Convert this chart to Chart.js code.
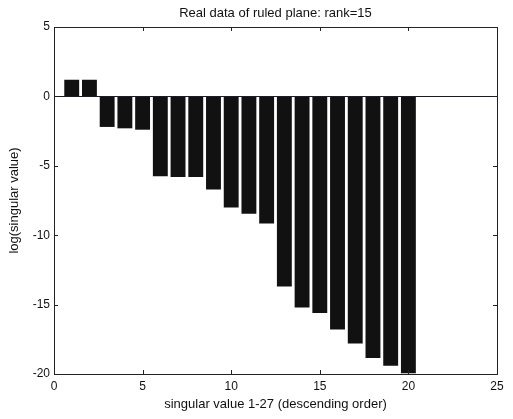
<!DOCTYPE html>
<html>
<head>
<meta charset="utf-8">
<script src="https://cdn.jsdelivr.net/npm/chart.js@4/dist/chart.umd.min.js"></script>
<style>
html,body{margin:0;padding:0;background:#fff;}
#wrap{width:513px;height:419px;position:relative;}
</style>
</head>
<body>
<div id="wrap"><canvas id="c" width="513" height="419"></canvas></div>
<script>
const categories = [1,2,3,4,5,6,7,8,9,10,11,12,13,14,15,16,17,18,19,20];
const logSingularValues = [1.2,1.2,-2.2,-2.3,-2.4,-5.75,-5.8,-5.8,-6.7,-8.0,-8.45,-9.15,-13.7,-15.2,-15.6,-16.8,-17.8,-18.85,-19.4,-19.95];
const xTicks = [0,5,10,15,20,25];
const yTicks = [5,0,-5,-10,-15,-20];
const titleText = 'Real data of ruled plane: rank=15';
const xLabel = 'singular value 1-27 (descending order)';
const yLabel = 'log(singular value)';

const FONT = 'Arial, "Liberation Sans", sans-serif';

const frame = {
  id: 'frame',
  afterDatasetsDraw(chart) {
    const {ctx, chartArea: a, scales} = chart;
    ctx.save();
    const y0 = scales.y.getPixelForValue(0);
    ctx.strokeStyle = '#1a1a2e';
    ctx.lineWidth = 1;
    ctx.beginPath();
    ctx.moveTo(a.left, Math.round(y0) + 0.5);
    ctx.lineTo(a.right, Math.round(y0) + 0.5);
    ctx.stroke();
    ctx.strokeStyle = '#222';
    ctx.strokeRect(Math.round(a.left) + 0.5, Math.round(a.top) + 0.5, Math.round(a.right - a.left), Math.round(a.bottom - a.top));
    const L = 4;
    ctx.beginPath();
    xTicks.forEach(v => {
      const x = Math.round(scales.x.getPixelForValue(v)) + 0.5;
      ctx.moveTo(x, a.bottom); ctx.lineTo(x, a.bottom - L);
      ctx.moveTo(x, a.top); ctx.lineTo(x, a.top + L);
    });
    yTicks.forEach(v => {
      const y = Math.round(scales.y.getPixelForValue(v)) + 0.5;
      ctx.moveTo(a.left, y); ctx.lineTo(a.left + L, y);
      ctx.moveTo(a.right, y); ctx.lineTo(a.right - L, y);
    });
    ctx.stroke();
    ctx.fillStyle = '#111';
    ctx.font = '13px ' + FONT;
    ctx.textAlign = 'center';
    ctx.textBaseline = 'middle';
    ctx.fillText(titleText, (a.left + a.right) / 2, 13);
    ctx.restore();
  }
};

new Chart(document.getElementById('c'), {
  type: 'bar',
  data: {
    datasets: [{
      data: categories.map((c, i) => ({x: c, y: logSingularValues[i]})),
      backgroundColor: '#111111',
      borderWidth: 0,
      barPercentage: 0.84,
      categoryPercentage: 1.0
    }]
  },
  options: {
    responsive: false,
    animation: false,
    devicePixelRatio: 1,
    layout: {padding: {left: 7, right: 16, top: 27, bottom: 0}},
    plugins: {legend: {display: false}, tooltip: {enabled: false}, title: {display: false}},
    scales: {
      x: {
        type: 'linear', min: 0, max: 25, offset: false,
        afterBuildTicks: s => { s.ticks = xTicks.map(v => ({value: v})); },
        afterFit: s => { s.height = 45; },
        grid: {display: false, drawTicks: false, offset: false},
        border: {display: false},
        ticks: {color: '#111', font: {size: 12, family: FONT}, padding: 5, maxRotation: 0, autoSkip: false},
        title: {display: true, text: xLabel, color: '#111', font: {size: 13, family: FONT}, padding: {top: 0, bottom: 7}}
      },
      y: {
        type: 'linear', min: -20, max: 5,
        afterBuildTicks: s => { s.ticks = yTicks.map(v => ({value: v})); },
        afterFit: s => { s.width = 47; },
        grid: {display: false, drawTicks: false},
        border: {display: false},
        ticks: {color: '#111', font: {size: 12, family: FONT}, padding: 4, autoSkip: false},
        title: {display: true, text: yLabel, color: '#111', font: {size: 13, family: FONT}, padding: 0}
      }
    }
  },
  plugins: [frame]
});
</script>
</body>
</html>
